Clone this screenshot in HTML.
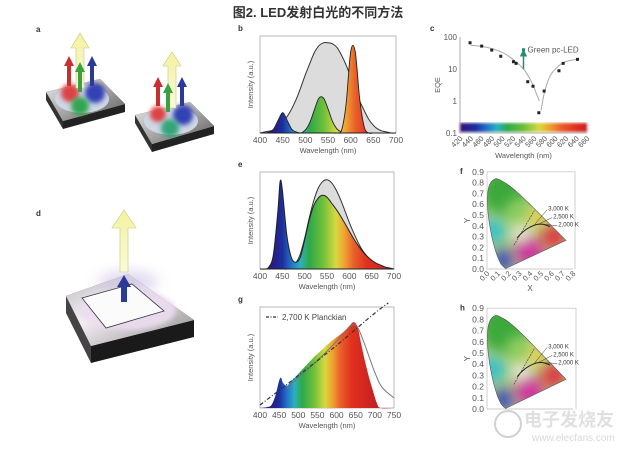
<!DOCTYPE html>
<html><head><meta charset="utf-8">
<style>
html,body{margin:0;padding:0;background:#fff;}
svg{display:block;font-family:"Liberation Sans","Noto Sans CJK SC",sans-serif;}
</style></head>
<body>
<svg id="chart" width="630" height="452" viewBox="0 0 630 452" xmlns="http://www.w3.org/2000/svg">
<defs>
  <filter id="blur6" x="-50%" y="-50%" width="200%" height="200%"><feGaussianBlur stdDeviation="7"/></filter>
  <filter id="blur2" x="-50%" y="-50%" width="200%" height="200%"><feGaussianBlur stdDeviation="2.5"/></filter>
  <filter id="blur1"><feGaussianBlur stdDeviation="1.2"/></filter>
  <linearGradient id="slab" x1="0" y1="0" x2="1" y2="1"><stop offset="0" stop-color="#e8e8e8"/><stop offset="0.5" stop-color="#a8a8a8"/><stop offset="1" stop-color="#555"/></linearGradient>
  <linearGradient id="slab2" x1="0" y1="0" x2="1" y2="1"><stop offset="0" stop-color="#bbb"/><stop offset="0.4" stop-color="#f4eef4"/><stop offset="1" stop-color="#888"/></linearGradient>
  <linearGradient id="yarrow" x1="0" y1="0" x2="0" y2="1"><stop offset="0" stop-color="#f2f2a0"/><stop offset="1" stop-color="#fafad8"/></linearGradient>
</defs>
<text x="318" y="17" text-anchor="middle" font-size="13" font-weight="bold" fill="#333">图2.  LED发射白光的不同方法</text>
<g id="illus">
  <text x="36" y="32" font-size="8" font-weight="bold" fill="#333">a</text>
  <text x="36" y="216" font-size="8" font-weight="bold" fill="#333">d</text>
  <g>
    <polygon points="46,92 100,79 125,104 63,121 63,129 125,112 125,104" fill="#222"/>
    <polygon points="46,92 100,79 125,104 63,121" fill="url(#slab)"/>
    <polygon points="46,92 63,121 63,129 46,100" fill="#333"/>
    <ellipse cx="82" cy="99" rx="27" ry="14" fill="#cfd6e6"/>
    <circle cx="70" cy="93" r="9" fill="#e03030" filter="url(#blur2)" opacity="0.9"/>
    <circle cx="95" cy="93" r="10" fill="#2030b0" filter="url(#blur2)" opacity="0.9"/>
    <circle cx="80" cy="106" r="9" fill="#20a040" filter="url(#blur2)" opacity="0.9"/>
    <polygon points="76,88 76,48 71,48 80,33 89,48 84,48 84,88" fill="url(#yarrow)" stroke="#c8c880" stroke-width="0.6"/>
    <polygon points="67,86 67,66 64,66 69,56 74,66 71,66 71,86" fill="#c83030"/>
    <polygon points="90,86 90,66 87,66 92,56 97,66 94,66 94,86" fill="#2a3a9a"/>
    <polygon points="78,92 78,72 75,72 80,62 85,72 82,72 82,92" fill="#3aa040"/>
  </g>
  <g>
    <polygon points="135,115 190,102 214,126 152,144 152,152 214,134 214,126" fill="#222"/>
    <polygon points="135,115 190,102 214,126 152,144" fill="url(#slab)"/>
    <polygon points="135,115 152,144 152,152 135,123" fill="#333"/>
    <ellipse cx="171" cy="121" rx="27" ry="14" fill="#cfd6e6"/>
    <circle cx="158" cy="114" r="8" fill="#e03030" filter="url(#blur2)" opacity="0.9"/>
    <circle cx="183" cy="115" r="10" fill="#2030b0" filter="url(#blur2)" opacity="0.9"/>
    <circle cx="170" cy="128" r="9" fill="#20a070" filter="url(#blur2)" opacity="0.9"/>
    <polygon points="168,108 168,66 163,66 172,52 181,66 176,66 176,108" fill="url(#yarrow)" stroke="#c8c880" stroke-width="0.6"/>
    <polygon points="156,106 156,87 153,87 158,77 163,87 160,87 160,106" fill="#c83030"/>
    <polygon points="180,106 180,87 177,87 182,77 187,87 184,87 184,106" fill="#2a3a9a"/>
    <polygon points="166,112 166,93 163,93 168,83 173,93 170,93 170,112" fill="#3aa040"/>
  </g>
  <g>
    <polygon points="66,296 128,274 194,320 91,346 91,363 194,337 194,320" fill="#1a1a1a"/>
    <polygon points="66,296 128,274 194,320 91,346" fill="url(#slab2)"/>
    <polygon points="66,296 91,346 91,363 66,313" fill="#444"/>
    <ellipse cx="128" cy="310" rx="48" ry="20" fill="#ecdcf0" filter="url(#blur2)" opacity="0.9"/>
    <ellipse cx="128" cy="282" rx="30" ry="10" fill="#c8b8e0" filter="url(#blur6)" opacity="0.6"/>
    <polygon points="82,298 132,284 164,311 106,328" fill="#fbfbfb" stroke="#334" stroke-width="0.8"/>
    <polygon points="120,272 120,228 112,228 124,210 136,228 128,228 128,272" fill="url(#yarrow)" stroke="#c8c880" stroke-width="0.6"/>
    <polygon points="121,302 121,287 117,287 124,275 131,287 127,287 127,302" fill="#2a3a9a"/>
  </g>
</g>
<g id="panels"></g>
<g opacity="0.45">
  <circle cx="508" cy="424" r="13" fill="none" stroke="#999" stroke-width="2"/>
  <text x="524" y="426" font-size="18" fill="#bbb" font-weight="bold">电子发烧友</text>
  <text x="532" y="441" font-size="10" fill="#aaa">www.elecfans.com</text>
</g>
</svg>
<script>
// ---------- DATA ----------
const bWl = [400,410,420,430,440,450,460,470,480,490,500,510,520,530,540,550,560,570,580,590,600,610,620,630,640,650,660,670,680,690,700];
const bBroad = [0,0.01,0.02,0.03,0.06,0.11,0.17,0.25,0.35,0.47,0.6,0.72,0.83,0.9,0.93,0.93,0.92,0.88,0.8,0.7,0.58,0.45,0.33,0.23,0.14,0.08,0.04,0.02,0.01,0,0];
const bBlue  = [0,0,0.01,0.04,0.13,0.21,0.13,0.04,0.01,0,0,0,0,0,0,0,0,0,0,0,0,0,0,0,0,0,0,0,0,0,0];
const bGreen = [0,0,0,0,0,0,0,0,0,0,0.03,0.11,0.24,0.36,0.36,0.25,0.12,0.04,0.01,0,0,0,0,0,0,0,0,0,0,0,0];
const bRed   = [0,0,0,0,0,0,0,0,0,0,0,0,0,0,0,0,0,0,0.03,0.3,0.84,0.84,0.35,0.06,0,0,0,0,0,0,0];
const specTicks = [400,450,500,550,600,650,700];

const cWl  = [439,461,480,497,521,526,548,558,569,579,607,615,642];
const cEqe = [66,52,39,25,16.9,15,4.0,2.9,0.43,2.05,8.8,15,20];
const cFitWl1 = [440,470,500,520,540,555,565,570];
const cFitEqe1 = [55,48,33,20,10,4,1.6,1.0];
const cFitWl2 = [573,580,590,605,620,640];
const cFitEqe2 = [0.5,2,6,12,17,20];
const cTicks = [420,440,460,480,500,520,540,560,580,600,620,640,660];
const cYTicks = [100,10,1,0.1];
const cYLabels = ['100','10','1','0.1'];

const eWl = [400,410,420,430,440,445,450,460,470,480,490,500,510,520,530,540,550,560,570,580,590,600,610,620,630,640,650,660,670,680,690,700];
const eMeas = [0,0,0.02,0.15,0.6,0.9,0.82,0.35,0.12,0.07,0.12,0.3,0.5,0.65,0.73,0.76,0.74,0.68,0.62,0.55,0.47,0.39,0.31,0.24,0.18,0.13,0.09,0.06,0.04,0.02,0.01,0];
const eIdeal = [0,0,0,0,0,0,0,0,0.02,0.06,0.15,0.32,0.52,0.7,0.83,0.9,0.92,0.89,0.82,0.72,0.6,0.48,0.37,0.27,0.19,0.13,0.08,0.05,0.03,0.01,0.005,0];

const gWl = [400,420,430,440,450,455,460,470,480,500,520,540,560,580,600,620,635,645,655,665,675,685,695,705,715,750];
const gSpec = [0,0.01,0.03,0.12,0.27,0.3,0.25,0.22,0.26,0.34,0.42,0.5,0.57,0.64,0.7,0.76,0.82,0.85,0.8,0.62,0.45,0.3,0.17,0.05,0,0];
const gPlanckWl = [400,500,600,650,700,735];
const gPlanck = [0.03,0.32,0.62,0.78,0.94,1.04];
const gModelWl = [470,500,550,600,640,660,700,720,750];
const gModel = [0.2,0.3,0.47,0.66,0.82,0.76,0.35,0.2,0.1];
const gTicks = [400,450,500,550,600,650,700,750];

const locusX = [0.1741,0.1440,0.1241,0.0913,0.0454,0.0082,0.0139,0.0743,0.1547,0.2296,0.3016,0.3731,0.4441,0.5125,0.5752,0.6270,0.6915,0.7190,0.7347];
const locusY = [0.0050,0.0297,0.0578,0.1327,0.2950,0.5384,0.7502,0.8338,0.8059,0.7543,0.6923,0.6245,0.5547,0.4866,0.4242,0.3725,0.3083,0.2809,0.2653];
const planckX = [0.281,0.313,0.345,0.380,0.437,0.477,0.527,0.586];
const planckY = [0.288,0.324,0.352,0.377,0.404,0.414,0.413,0.393];
const cieXTicks = [0,0.1,0.2,0.3,0.4,0.5,0.6,0.7,0.8];
const cieXLabels = ['0.0','0.1','0.2','0.3','0.4','0.5','0.6','0.7','0.8'];
const cieYTicks = [0,0.1,0.2,0.3,0.4,0.5,0.6,0.7,0.8,0.9];
const cieYLabels = ['0.0','0.1','0.2','0.3','0.4','0.5','0.6','0.7','0.8','0.9'];
const cctLabels = ['3,000 K','2,500 K','2,000 K'];
const spectrumStops = [[400,'#4b0a6e'],[430,'#2a1a8a'],[450,'#1c2f9c'],[470,'#2470c8'],[490,'#2bb0c0'],[510,'#2fa84a'],[540,'#6cbf3a'],[570,'#d8d840'],[590,'#f0a030'],[610,'#e8602a'],[640,'#e03020'],[700,'#c82020']];

// ---------- HELPERS ----------
const svg = document.getElementById('panels');
const NS = 'http://www.w3.org/2000/svg';
const defs = document.querySelector('defs');
function mk(tag, attrs, parent){const e=document.createElementNS(NS,tag);for(const k in attrs)e.setAttribute(k,attrs[k]);(parent||svg).appendChild(e);return e;}
function smooth(p){let d='M'+p[0][0].toFixed(1)+','+p[0][1].toFixed(1);for(let i=0;i<p.length-1;i++){const p0=p[i-1]||p[i],p1=p[i],p2=p[i+1],p3=p[i+2]||p2;const c1=[p1[0]+(p2[0]-p0[0])/6,p1[1]+(p2[1]-p0[1])/6];const c2=[p2[0]-(p3[0]-p1[0])/6,p2[1]-(p3[1]-p1[1])/6];d+=' C'+c1.map(v=>v.toFixed(1))+' '+c2.map(v=>v.toFixed(1))+' '+p2.map(v=>v.toFixed(1));}return d;}
function lin(d0,d1,r0,r1){return v=>r0+(v-d0)/(d1-d0)*(r1-r0);}
function specGrad(id,x0,x1,n0,n1){const g=mk('linearGradient',{id:id,gradientUnits:'userSpaceOnUse',x1:x0,y1:0,x2:x1,y2:0},defs);spectrumStops.forEach(s=>{mk('stop',{offset:Math.max(0,Math.min(1,(s[0]-n0)/(n1-n0))),'stop-color':s[1]},g);});return 'url(#'+id+')';}
function txt(x,y,s,attrs,parent){const t=mk('text',Object.assign({x:x,y:y,'font-size':8,fill:'#555'},attrs||{}),parent);t.textContent=s;return t;}

function spectrumPanel(name,label,box,n0,n1,ticks){
  const g=mk('g',{});
  
  
  const X=lin(n0,n1,box.x0,box.x1), Y=lin(0,1,box.y1,box.y0);
  const fr=mk('rect',{x:box.x0,y:box.y0,width:box.x1-box.x0,height:box.y1-box.y0,fill:'none',stroke:'#aaa','stroke-width':0.8},g);
  
  
  const lb=txt(box.x0-22,box.y0-5,label,{'font-weight':'bold','fill':'#333'},g);
  
  
  ticks.forEach(t=>{
    const tk=txt(X(t),box.y1+10,String(t),{'text-anchor':'middle','font-size':8.5},g);
    
    
  });
  const xl=txt((box.x0+box.x1)/2,box.y1+20,'Wavelength (nm)',{'text-anchor':'middle','font-size':7.5},g);
  
  
  const yl=txt(0,0,'Intensity (a.u.)',{'text-anchor':'middle','font-size':7.5,transform:'translate('+(box.x0-7)+','+((box.y0+box.y1)/2)+') rotate(-90)'},g);
  
  
  return {g,X,Y};
}
function area(wl,vals,X,Y,base){const pts=wl.map((w,i)=>[X(w),Y(vals[i])]);return smooth(pts)+' L'+X(wl[wl.length-1])+','+base+' L'+X(wl[0])+','+base+' Z';}
function line(wl,vals,X,Y){return smooth(wl.map((w,i)=>[X(w),Y(vals[i])]));}

// ---------- PANEL B ----------
(function(){
  const box={x0:260,x1:396,y0:36,y1:133};
  const P=spectrumPanel('panel-b-rgb-spectrum','b',box,400,700,specTicks);
  const grad=specGrad('gb',box.x0,box.x1,400,700);
  const br=mk('path',{d:area(bWl,bBroad,P.X,P.Y,box.y1),fill:'#dcdcdc',stroke:'#333','stroke-width':1},P.g);
  
  
  [['blue-led-peak',bBlue],['green-led-peak',bGreen],['red-led-peak',bRed]].forEach(s=>{
    const p=mk('path',{d:area(bWl,s[1],P.X,P.Y,box.y1),fill:grad,stroke:'#222','stroke-width':0.9},P.g);
    
    
  });
})();

// ---------- PANEL C ----------
(function(){
  const g=mk('g',{});
  
  
  const x0=460,x1=587,y0=37,y1=133;
  const X=lin(420,660,x0,x1);
  const Y=v=>lin(Math.log10(0.1),Math.log10(100),y1,y0)(Math.log10(v));
  const grad=specGrad('gc',x0,x1,420,660);
  const bar=mk('rect',{x:x0,y:123,width:x1-x0,height:9,fill:grad,filter:'url(#blur1)'},g);
  
  
  const ax=mk('path',{d:'M'+x0+','+y0+' V'+y1+' H'+x1,fill:'none',stroke:'#999','stroke-width':0.8},g);
  
  
  const lb=txt(430,31,'c',{'font-weight':'bold',fill:'#333'},g);
  
  
  cYTicks.forEach((t,i)=>{
    const tl=txt(x0-3,Y(t)+3,cYLabels[i],{'text-anchor':'end','font-size':8},g);
    
    
  });
  cTicks.forEach(t=>{
    const tl=txt(0,0,String(t),{'text-anchor':'end','font-size':7.5,transform:'translate('+(X(t)+3)+','+(y1+6)+') rotate(-45)'},g);
    
    
  });
  const xt=txt((x0+x1)/2,158,'Wavelength (nm)',{'text-anchor':'middle','font-size':7.5},g);
  
  
  const yt=txt(0,0,'EQE',{'text-anchor':'middle','font-size':7.5,transform:'translate(440,85) rotate(-90)'},g);
  
  
  const f1=mk('path',{d:line(cFitWl1,cFitEqe1.map(Math.log10),X,v=>lin(-1,2,y1,y0)(v)),fill:'none',stroke:'#aaa','stroke-width':1},g);
  
  
  const f2=mk('path',{d:line(cFitWl2,cFitEqe2.map(Math.log10),X,v=>lin(-1,2,y1,y0)(v)),fill:'none',stroke:'#aaa','stroke-width':1},g);
  
  
  cWl.forEach((w,i)=>{
    const r=mk('rect',{x:X(w)-1.5,y:Y(cEqe[i])-1.5,width:3,height:3,fill:'#222'},g);
    
    
  });
  const ar=mk('path',{d:'M'+X(540)+','+Y(10)+' V'+(Y(40)+5)+' M'+(X(540)-2.5)+','+(Y(40)+6)+' L'+X(540)+','+(Y(40)+1)+' L'+(X(540)+2.5)+','+(Y(40)+6)+'Z',stroke:'#2a8a7a','stroke-width':1.5,fill:'#2a8a7a'},g);
  
  
  const gp=mk('rect',{x:X(540)-1.5,y:Y(40)-1.5,width:3,height:3,fill:'#2a8a5a'},g);
  
  
  const gl=txt(X(540)+4,Y(40)+3,'Green pc-LED',{'font-size':8},g);
  
  
})();

// ---------- PANEL E ----------
(function(){
  const box={x0:260,x1:394,y0:172,y1:269};
  const P=spectrumPanel('panel-e-pc-led-spectrum','e',box,400,700,specTicks);
  const grad=specGrad('ge',box.x0,box.x1,400,700);
  const id=mk('path',{d:area(eWl,eIdeal,P.X,P.Y,box.y1),fill:'#dcdcdc',stroke:'#333','stroke-width':1},P.g);
  
  
  const ms=mk('path',{d:area(eWl,eMeas,P.X,P.Y,box.y1),fill:grad,stroke:'#222','stroke-width':1},P.g);
  
  
})();

// ---------- PANEL G ----------
(function(){
  const box={x0:260,x1:394,y0:307,y1:408};
  const P=spectrumPanel('panel-g-warm-led-spectrum','g',box,400,750,gTicks);
  const grad=specGrad('gg',box.x0,box.x1,400,750);
  const sp=mk('path',{d:area(gWl,gSpec,P.X,P.Y,box.y1),fill:grad,stroke:'none'},P.g);
  
  
  const md=mk('path',{d:line(gModelWl,gModel,P.X,P.Y),fill:'none',stroke:'#777','stroke-width':1},P.g);
  
  
  const pl=mk('path',{d:line(gPlanckWl,gPlanck,P.X,P.Y),fill:'none',stroke:'#333','stroke-width':1.2,'stroke-dasharray':'4,2,1,2'},P.g);
  
  
  const lg=mk('line',{x1:266,y1:317,x2:278,y2:317,stroke:'#333','stroke-width':1.2,'stroke-dasharray':'3,1.5,1,1.5'},P.g);
  
  
  const lt=txt(282,320,'2,700 K Planckian',{'font-size':8,fill:'#444'},P.g);
  
  
})();

// ---------- CIE PANELS ----------
function ciePanel(name,label,ox,oy,sx,sy,xr){
  const g=mk('g',{});
  
  
  const X=v=>ox+v*sx, Y=v=>oy-v*sy;
  const cid='clip'+label;
  const cp=mk('clipPath',{id:cid},defs);
  const locusPts=locusX.map((x,i)=>[X(x),Y(locusY[i])]);
  mk('path',{d:smooth(locusPts)+' Z'},cp);
  const fr=mk('path',{d:'M'+ox+','+Y(0.9)+' V'+oy+' H'+X(0.8)+' M'+ox+','+Y(0.9)+' H'+xr+' V'+oy,fill:'none',stroke:'#bbb','stroke-width':0.7},g);
  
  
  const fill=mk('g',{'clip-path':'url(#'+cid+')'},g);
  
  
  mk('rect',{x:ox-5,y:Y(0.9),width:sx*0.8,height:sy*0.95,fill:'#b0d080'},fill);
  [[0.15,0.72,0.22,'#3aa83a'],[0.05,0.35,0.12,'#30c0d0'],[0.15,0.08,0.1,'#3040c0'],[0.4,0.15,0.14,'#d030a0'],[0.62,0.3,0.12,'#e03040'],[0.45,0.48,0.1,'#e8d050'],[0.32,0.33,0.08,'#f4f0f0'],[0.28,0.55,0.1,'#90d060']].forEach(c=>{
    mk('ellipse',{cx:X(c[0]),cy:Y(c[1]),rx:c[2]*sx,ry:c[2]*sy,fill:c[3],filter:'url(#blur6)'},fill);
  });
  const lo=mk('path',{d:smooth(locusPts)+' Z',fill:'none',stroke:'#555','stroke-width':0.6},g);
  
  
  const pl=mk('path',{d:smooth(planckX.map((x,i)=>[X(x),Y(planckY[i])])),fill:'none',stroke:'#222','stroke-width':1},g);
  
  
  const tri=mk('line',{x1:X(0.25),y1:Y(0.22),x2:X(0.44),y2:Y(0.54),stroke:'#333','stroke-width':0.6,'stroke-dasharray':'2,1'},g);
  
  
  cctLabels.forEach((s,i)=>{
    const px=X(planckX[4+i]), py=Y(planckY[4+i]);
    const lx=X(0.56)+i*5, ly=Y(0.55)+i*8;
    const l=mk('line',{x1:px,y1:py,x2:lx,y2:ly,stroke:'#333','stroke-width':0.5},g);
    
    
    const t=txt(lx+1,ly+1,s,{'font-size':6,fill:'#333'},g);
    
    
  });
  cieYTicks.forEach((t,i)=>{
    const tl=txt(ox-3,Y(t)+3,cieYLabels[i],{'text-anchor':'end','font-size':8.5},g);
    
    
  });
  const yl=txt(ox-20,(Y(0.45)+3),'Y',{'text-anchor':'middle','font-size':8,transform:'rotate(-90 '+(ox-20)+' '+Y(0.45)+')'},g);
  
  
  if(label==='f'){
    cieXTicks.forEach((t,i)=>{
      const tl=txt(0,0,cieXLabels[i],{'text-anchor':'end','font-size':7.5,transform:'translate('+(X(t)+3)+','+(oy+5)+') rotate(-45)'},g);
      
      
    });
    const xl=txt(X(0.4),oy+22,'X',{'text-anchor':'middle','font-size':8},g);
    
    
  }
  const lb=txt(ox-27,Y(0.88),label,{'font-weight':'bold',fill:'#333'},g);
  
  
}
ciePanel('panel-f-cie-diagram','f',487,269,107.5,108,575);
ciePanel('panel-h-cie-diagram','h',487,409,107.5,112,576);
</script>
</body></html>
